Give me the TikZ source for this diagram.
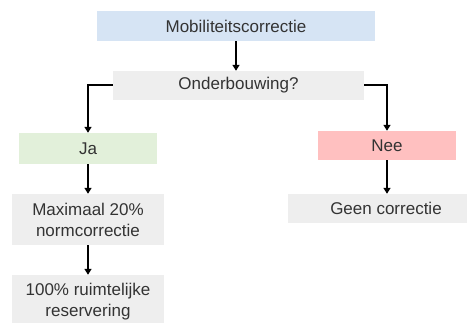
\documentclass[tikz,border=0pt]{standalone}
\usepackage{fontspec}
\setmainfont{Liberation Sans}
\usepackage{xcolor}
\usetikzlibrary{arrows.meta}

\definecolor{boxblue}{HTML}{D6E4F4}
\definecolor{boxgrey}{HTML}{EEEEEE}
\definecolor{boxgreen}{HTML}{E2F0DA}
\definecolor{boxred}{HTML}{FFC0C0}
\definecolor{boxtext}{HTML}{333333}

\tikzset{
  box/.style={fill=#1, inner sep=0pt, align=center, text=boxtext,
    font=\fontsize{17}{21}\selectfont},
  flow/.style={line width=1.6pt, -{Triangle[length=6pt,width=7pt]}}
}

\begin{document}
\begin{tikzpicture}[x=1pt,y=-1pt]
\clip (0,0) rectangle (467,323);
\node[box=boxblue, minimum width=278pt, minimum height=30pt] (M) at (236,26) {Mobiliteitscorrectie};
\node[box=boxgrey, minimum width=251pt, minimum height=29pt] (O) at (238.5,85.5) {Onderbouwing?};
\node[box=boxgreen, minimum width=138pt, minimum height=31pt] (J) at (88,148.5) {Ja};
\node[box=boxred, minimum width=138pt, minimum height=29pt] (N) at (387,145.5) {Nee};
\node[box=boxgrey, minimum width=152pt, minimum height=51pt] (X) at (88,219.5) {Maximaal 20\%\\normcorrectie};
\node[box=boxgrey, minimum width=152pt, minimum height=54pt] (R) at (88,302) {100\% ruimtelijke\\reservering};
\node[box=boxgrey, minimum width=196pt, minimum height=29pt] (G) at (386,208.5) {Geen correctie};
\draw [flow] (M) -- (M |- O.north);
\draw [flow, line width=2pt] (O.west) -| (J.north);
\draw [flow, line width=2pt] (O.east) -| (N.north);
\draw [flow] (J) -- (X);
\draw [flow] (X) -- (R);
\draw [flow] (N) -- (N |- G.north);
\end{tikzpicture}
\end{document}
